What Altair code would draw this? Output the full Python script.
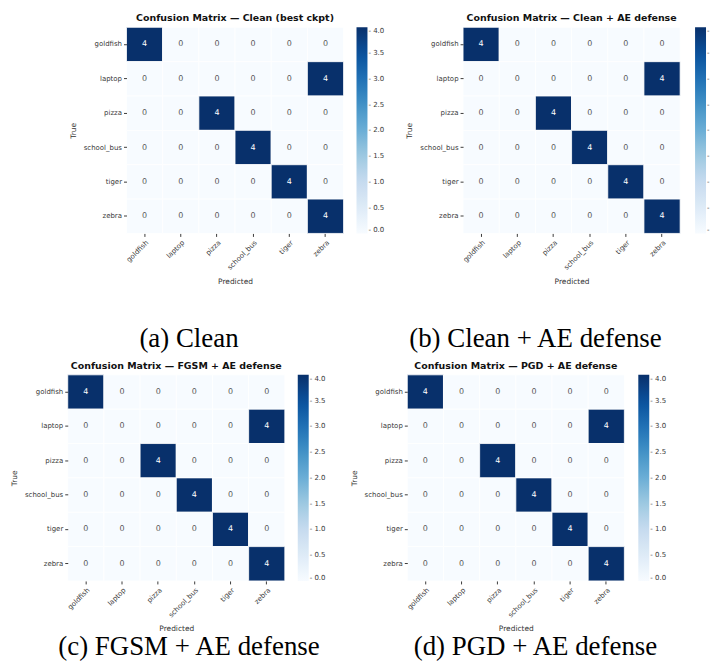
import altair as alt
import pandas as pd

classes = ["goldfish", "laptop", "pizza", "school_bus", "tiger", "zebra"]

cm_clean = [[4, 0, 0, 0, 0, 0],
            [0, 0, 0, 0, 0, 4],
            [0, 0, 4, 0, 0, 0],
            [0, 0, 0, 4, 0, 0],
            [0, 0, 0, 0, 4, 0],
            [0, 0, 0, 0, 0, 4]]
cm_clean_ae = [[4, 0, 0, 0, 0, 0],
               [0, 0, 0, 0, 0, 4],
               [0, 0, 4, 0, 0, 0],
               [0, 0, 0, 4, 0, 0],
               [0, 0, 0, 0, 4, 0],
               [0, 0, 0, 0, 0, 4]]
cm_fgsm_ae = [[4, 0, 0, 0, 0, 0],
              [0, 0, 0, 0, 0, 4],
              [0, 0, 4, 0, 0, 0],
              [0, 0, 0, 4, 0, 0],
              [0, 0, 0, 0, 4, 0],
              [0, 0, 0, 0, 0, 4]]
cm_pgd_ae = [[4, 0, 0, 0, 0, 0],
             [0, 0, 0, 0, 0, 4],
             [0, 0, 4, 0, 0, 0],
             [0, 0, 0, 4, 0, 0],
             [0, 0, 0, 0, 4, 0],
             [0, 0, 0, 0, 0, 4]]

titles = ["Confusion Matrix — Clean (best ckpt)",
          "Confusion Matrix — Clean + AE defense",
          "Confusion Matrix — FGSM + AE defense",
          "Confusion Matrix — PGD + AE defense"]
captions = ["(a) Clean", "(b) Clean + AE defense",
            "(c) FGSM + AE defense", "(d) PGD + AE defense"]
caption_slots = [1, 3]
cbar_ticks = [0.0, 0.5, 1.0, 1.5, 2.0, 2.5, 3.0, 3.5, 4.0]
blues = ["#f7fbff", "#deebf7", "#c6dbef", "#9ecae1", "#6baed6",
         "#4292c6", "#2171b5", "#08519c", "#08306b"]

W, H = 218, 207
LBL = "#3a3a3a"


def panel(cm, title, label_expr, cbar_offset):
    rows = []
    for i, t in enumerate(classes):
        for j, p in enumerate(classes):
            rows.append({"true": t, "pred": p, "value": cm[i][j]})
    df = pd.DataFrame(rows)
    base = alt.Chart(df).encode(
        x=alt.X("pred:N", sort=classes, title="Predicted",
                scale=alt.Scale(paddingInner=0, paddingOuter=0),
                axis=alt.Axis(labelAngle=-45, labelFontSize=7, labelColor=LBL,
                              tickSize=3, tickColor=LBL, domain=False,
                              titleFontSize=7.5, titleFontWeight="normal",
                              titleColor="#333", titlePadding=7)),
        y=alt.Y("true:N", sort=classes, title="True",
                scale=alt.Scale(paddingInner=0, paddingOuter=0),
                axis=alt.Axis(labelFontSize=7, labelColor=LBL,
                              tickSize=3, tickColor=LBL, domain=False,
                              titleFontSize=7.5, titleFontWeight="normal",
                              titleColor="#333", titlePadding=6)),
    )
    rect = base.mark_rect(stroke="white", strokeWidth=0.8).encode(
        color=alt.Color("value:Q",
                        scale=alt.Scale(domain=cbar_ticks, range=blues),
                        legend=alt.Legend(title=None, type="gradient",
                                          direction="vertical", orient="right",
                                          gradientLength=H, gradientThickness=11,
                                          gradientStrokeWidth=0,
                                          values=cbar_ticks, format=".1f",
                                          labelExpr=label_expr,
                                          labelFontSize=7, labelColor=LBL,
                                          labelOffset=1, offset=cbar_offset,
                                          padding=0))
    )
    text = base.mark_text(fontSize=8, font="DejaVu Sans").encode(
        text="value:Q",
        color=alt.condition(alt.datum.value > 2, alt.value("#ffffff"),
                            alt.value("#555555")),
    )
    return alt.layer(rect, text).properties(
        width=W, height=H,
        title=alt.TitleParams(title, fontSize=9.5, fontWeight="bold",
                              font="DejaVu Sans", anchor="middle",
                              frame="group", offset=4, color="#111111"),
    )


full_lbl = "'- ' + format(datum.value, '.1f')"
# panel (b): its colorbar labels run off the right edge in the reference
cut_lbl = "'-'"

spacer = alt.Chart(pd.DataFrame({"t": [""]})).mark_text().encode(
    text="t:N").properties(width=1, height=10)

pair_top = alt.hconcat(
    panel(cm_clean, titles[0], full_lbl, 13),
    panel(cm_clean_ae, titles[1], cut_lbl, 15),
    spacing=21,
).resolve_scale(color="independent", x="independent", y="independent")

row_top = alt.hconcat(spacer, pair_top, spacing=0).resolve_scale(
    color="independent", x="independent", y="independent")

row_bot = alt.hconcat(
    panel(cm_fgsm_ae, titles[2], full_lbl, 13),
    panel(cm_pgd_ae, titles[3], full_lbl, 14),
    spacing=24,
).resolve_scale(color="independent", x="independent", y="independent")


def caption_chart(caps, height, dy):
    df = pd.DataFrame({"slot": caption_slots, "caption": caps})
    return alt.Chart(df).mark_text(font="Liberation Serif", fontSize=27,
                                   color="#000000", dy=dy,
                                   baseline="alphabetic").encode(
        x=alt.X("slot:Q", scale=alt.Scale(domain=[0.3, 3.95]), axis=None),
        text="caption:N",
    ).properties(width=635, height=height)


chart = alt.concat(
    row_top,
    caption_chart(captions[:2], 76, 24),
    row_bot,
    caption_chart(captions[2:], 20, 4),
    columns=1,
    spacing=0,
).resolve_scale(color="independent", x="independent", y="independent").properties(
    padding={"left": 2, "top": 4, "right": 0, "bottom": 0}
).configure(font="DejaVu Sans").configure_view(strokeWidth=0, stroke=None)

chart.save("out.html", embed_options={"renderer": "svg", "actions": False})
